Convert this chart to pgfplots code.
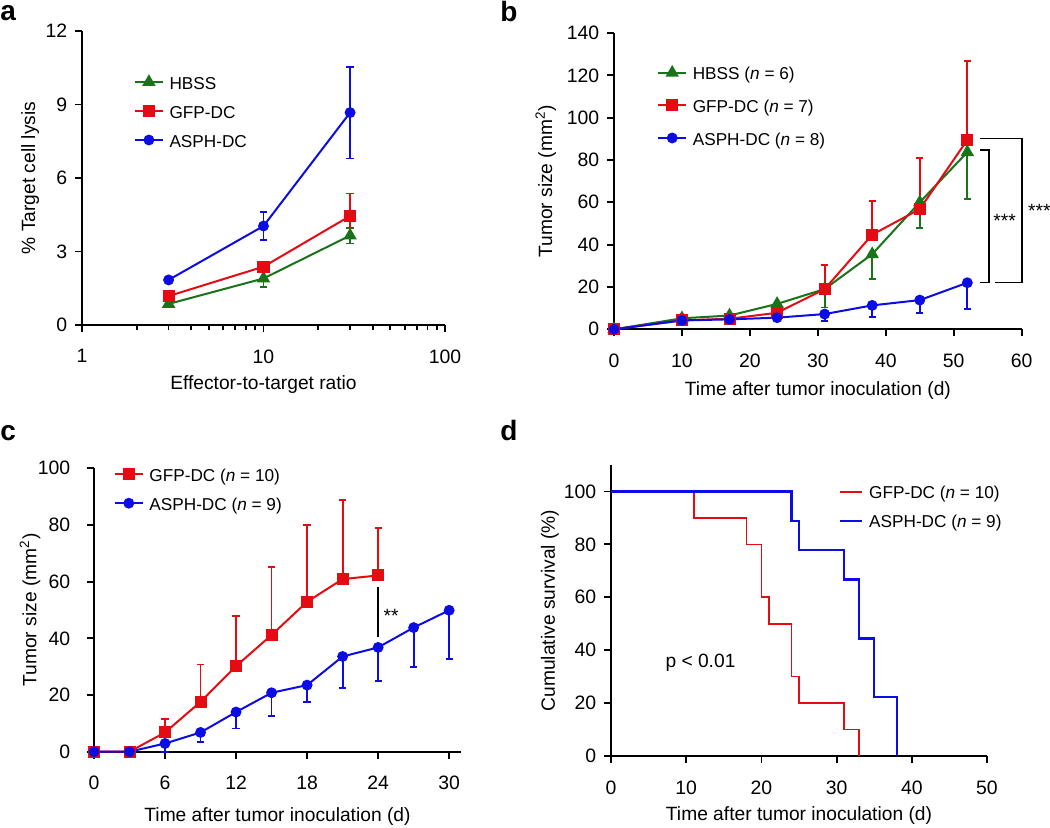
\documentclass[border=0pt]{standalone}
\usepackage{pgfplots}
\pgfplotsset{compat=1.18}
\usepackage{fontspec}
\setmainfont{Liberation Sans}
\definecolor{cgreen}{RGB}{25,115,25}
\definecolor{cred}{RGB}{228,12,18}
\definecolor{cblue}{RGB}{12,12,228}
\pgfplotsset{
 panel/.style={
  scale only axis, clip=false, anchor=south west,
  axis x line*=bottom, axis y line*=left,
  axis line style={-, line width=0.9pt, black},
  tick align=outside, tick pos=left,
  major tick length=3.5pt, minor tick length=2.4pt,
  every tick/.style={black, line width=0.9pt},
  /pgf/number format/assume math mode=true,
  tick label style={font=\fontsize{9.7}{11}\selectfont},
  label style={font=\fontsize{9.6}{11}\selectfont},
  xticklabel style={anchor=north, inner sep=0pt, yshift=-8.6pt},
  yticklabel style={anchor=east, inner sep=0pt, xshift=-3.7pt},
  legend cell align=left,
  legend style={draw=none, fill=none, inner sep=0pt, outer sep=0pt, column sep=2.8pt,
    font=\fontsize{8.6}{10}\selectfont,
    nodes={inner sep=0pt, text height=0.72em, text depth=0pt}, anchor=north west},
  legend image code/.code={\draw[mark repeat=2,mark phase=2] plot coordinates {(0pt,0pt)(7pt,0pt)(14pt,0pt)};},
  every axis plot/.append style={line width=1pt},
  error bars/error bar style={line width=0.9pt},
  error bars/error mark options={line width=0.9pt, mark size=1.8pt, rotate=90},
 },
 sq/.style={cred, mark=square*, mark size=2.5pt, mark options={solid}},
 ci/.style={cblue, mark=*, mark size=2.2pt, mark options={solid}},
 tr/.style={cgreen, mark=triangle*, mark size=2.9pt, mark options={solid}},
}
\begin{document}
\begin{tikzpicture}
\useasboundingbox (0pt,0pt) rectangle (525pt,413.5pt);
\node[anchor=base west, inner sep=0pt, font=\fontsize{14}{16}\selectfont\bfseries] at (0pt,403.15pt) {a};
\node[anchor=base west, inner sep=0pt, font=\fontsize{14}{16}\selectfont\bfseries] at (250pt,402.65pt) {b};
\node[anchor=base west, inner sep=0pt, font=\fontsize{14}{16}\selectfont\bfseries] at (0pt,193.5pt) {c};
\node[anchor=base west, inner sep=0pt, font=\fontsize{14}{16}\selectfont\bfseries] at (250pt,193.15pt) {d};

% ---------------- panel a
\begin{axis}[panel, at={(41pt,251pt)}, width=181.5pt, height=147pt,
  xmode=log, log basis x=10, xmin=1, xmax=100, ymin=0, ymax=12,
  xtick={1,10,100}, xticklabels={1,10,100},
  minor xtick={2,3,4,5,6,7,8,9,20,30,40,50,60,70,80,90},
  ytick={0,3,6,9,12},
  xlabel={Effector-to-target ratio}, ylabel={\% Target cell lysis},
  xlabel style={at={(axis description cs:0.5,-0.204)}, anchor=center},
  ylabel style={at={(axis description cs:-0.143,0.5)}, anchor=center},
  legend style={at={(axis description cs:0.143,0.851)}, row sep=7.3pt},
]
\addplot[tr, error bars/.cd, y dir=both, y explicit] coordinates {
 (3,0.86) +- (0,0.08) (10,1.90) +- (0,0.36) (30,3.65) +- (0,0.32)};
\addlegendentry{HBSS}
\addplot[sq, error bars/.cd, y dir=both, y explicit] coordinates {
 (3,1.18) +- (0,0.08) (10,2.38) +- (0,0.10) (30,4.45) +- (0,0.92)};
\addlegendentry{GFP-DC}
\addplot[ci, error bars/.cd, y dir=both, y explicit] coordinates {
 (3,1.84) +- (0,0.08) (10,4.04) +- (0,0.58) (30,8.67) +- (0,1.87)};
\addlegendentry{ASPH-DC}
\end{axis}

% ---------------- panel b
\begin{axis}[panel, at={(307pt,248.85pt)}, width=203.85pt, height=148.15pt,
  xmin=0, xmax=60, ymin=0, ymax=140,
  xtick={0,10,...,60}, ytick={0,20,...,140},
  xlabel={Time after tumor inoculation (d)}, ylabel={Tumor size (mm\textsuperscript{2})},
  xlabel style={at={(axis description cs:0.5,-0.208)}, anchor=center},
  ylabel style={at={(axis description cs:-0.1675,0.5)}, anchor=center},
  legend style={at={(axis description cs:0.106,0.890)}, row sep=9.1pt},
]
\addplot[tr, error bars/.cd, y dir=minus, y explicit] coordinates {
 (0,0) +- (0,0) (10,5.2) +- (0,0) (17,6.5) +- (0,0) (24,12) +- (0,0)
 (31,19) +- (0,8.7) (38,35.5) +- (0,11.7) (45,60) +- (0,12.1) (52,83.7) +- (0,22.2)};
\addlegendentry{HBSS (\textit{n} = 6)}
\addplot[sq, error bars/.cd, y dir=plus, y explicit] coordinates {
 (0,0) +- (0,0) (10,4.2) +- (0,0) (17,5) +- (0,0) (24,7.8) +- (0,0)
 (31,19) +- (0,11.2) (38,44.7) +- (0,15.8) (45,56.8) +- (0,24.1) (52,89.5) +- (0,37.2)};
\addlegendentry{GFP-DC (\textit{n} = 7)}
\addplot[ci, error bars/.cd, y dir=minus, y explicit] coordinates {
 (0,0) +- (0,0) (10,4.2) +- (0,0) (17,4.7) +- (0,0) (24,5.5) +- (0,0)
 (31,7.2) +- (0,3.3) (38,11.3) +- (0,5.4) (45,13.8) +- (0,6) (52,22) +- (0,12.3)};
\addlegendentry{ASPH-DC (\textit{n} = 8)}
\draw[black, line width=0.9pt] (axis cs:53.8,84.7) -- (axis cs:55.2,84.7) -- (axis cs:55.2,22.1) -- (axis cs:53.8,22.1);
\draw[black, line width=0.9pt] (axis cs:53.8,90.2) -- (axis cs:60.1,90.2) -- (axis cs:60.1,22.1) -- (axis cs:56.0,22.1);
\node[font=\fontsize{9.6}{11}\selectfont] at (axis cs:57.5,51.4) {***};
\node[font=\fontsize{9.6}{11}\selectfont, anchor=west, inner sep=0pt] at (axis cs:60.9,56) {***};
\end{axis}

% ---------------- panel c
\begin{axis}[panel, at={(47pt,37.65pt)}, width=183.5pt, height=141.7pt,
  xmin=0, xmax=31, ymin=0, ymax=100,
  xtick={0,6,...,30}, ytick={0,20,...,100},
  yticklabel style={xshift=-4.5pt},
  xlabel={Time after tumor inoculation (d)}, ylabel={Tumor size (mm\textsuperscript{2})},
  xlabel style={at={(axis description cs:0.5,-0.230)}, anchor=center},
  ylabel style={at={(axis description cs:-0.174,0.5)}, anchor=center},
  legend style={at={(axis description cs:0.054,1.006)}, row sep=7.5pt},
]
\addplot[sq, error bars/.cd, y dir=plus, y explicit] coordinates {
 (0,0) +- (0,0) (3,0) +- (0,0) (6,6.8) +- (0,4.7) (9,17.6) +- (0,13.2)
 (12,30.2) +- (0,17.8) (15,41.2) +- (0,24.1) (18,52.9) +- (0,27.1)
 (21,60.9) +- (0,27.9) (24,62.2) +- (0,16.6)};
\addlegendentry{GFP-DC (\textit{n} = 10)}
\addplot[ci, error bars/.cd, y dir=minus, y explicit] coordinates {
 (0,0) +- (0,0) (3,0) +- (0,0) (6,2.9) +- (0,2.9) (9,6.8) +- (0,3.3)
 (12,14) +- (0,5.8) (15,20.8) +- (0,8.1) (18,23.5) +- (0,5.9)
 (21,33.6) +- (0,11) (24,36.8) +- (0,11.9) (27,43.8) +- (0,13.8) (30,49.9) +- (0,17.1)};
\addlegendentry{ASPH-DC (\textit{n} = 9)}
\draw[black, line width=0.9pt] (axis cs:24,58.2) -- (axis cs:24,40.6);
\node[font=\fontsize{9.6}{11}\selectfont] at (axis cs:25.1,47.9) {**};
\end{axis}

% ---------------- panel d
\begin{axis}[panel, at={(305.5pt,35.5pt)}, width=188pt, height=145.5pt,
  xmin=0, xmax=50, ymin=0, ymax=110,
  xtick={0,10,...,50}, ytick={0,20,...,100},
  xlabel={Time after tumor inoculation (d)}, ylabel={Cumulative survival (\%)},
  xlabel style={at={(axis description cs:0.5,-0.203)}, anchor=center},
  ylabel style={at={(axis description cs:-0.1625,0.5)}, anchor=center},
  legend style={at={(axis description cs:0.605,0.933)}, row sep=7.3pt},
  legend image code/.code={\draw (0pt,0pt) -- (11.4pt,0pt);},
]
\addplot[cred, line width=0.85pt, const plot, mark=none] coordinates {
 (0,100) (11,90) (18,80) (20,60) (21,50) (24,30) (25,20) (31,10) (33,0)};
\addlegendentry{GFP-DC (\textit{n} = 10)}
\addplot[cblue, line width=1.15pt, const plot, mark=none] coordinates {
 (0,100) (24,88.9) (25,77.8) (31,66.7) (33,44.4) (35,22.2) (38,0)};
\addlegendentry{ASPH-DC (\textit{n} = 9)}
\node[font=\fontsize{9.6}{11}\selectfont] at (axis cs:11.9,35.3) {p < 0.01};
\end{axis}
\end{tikzpicture}
\end{document}
